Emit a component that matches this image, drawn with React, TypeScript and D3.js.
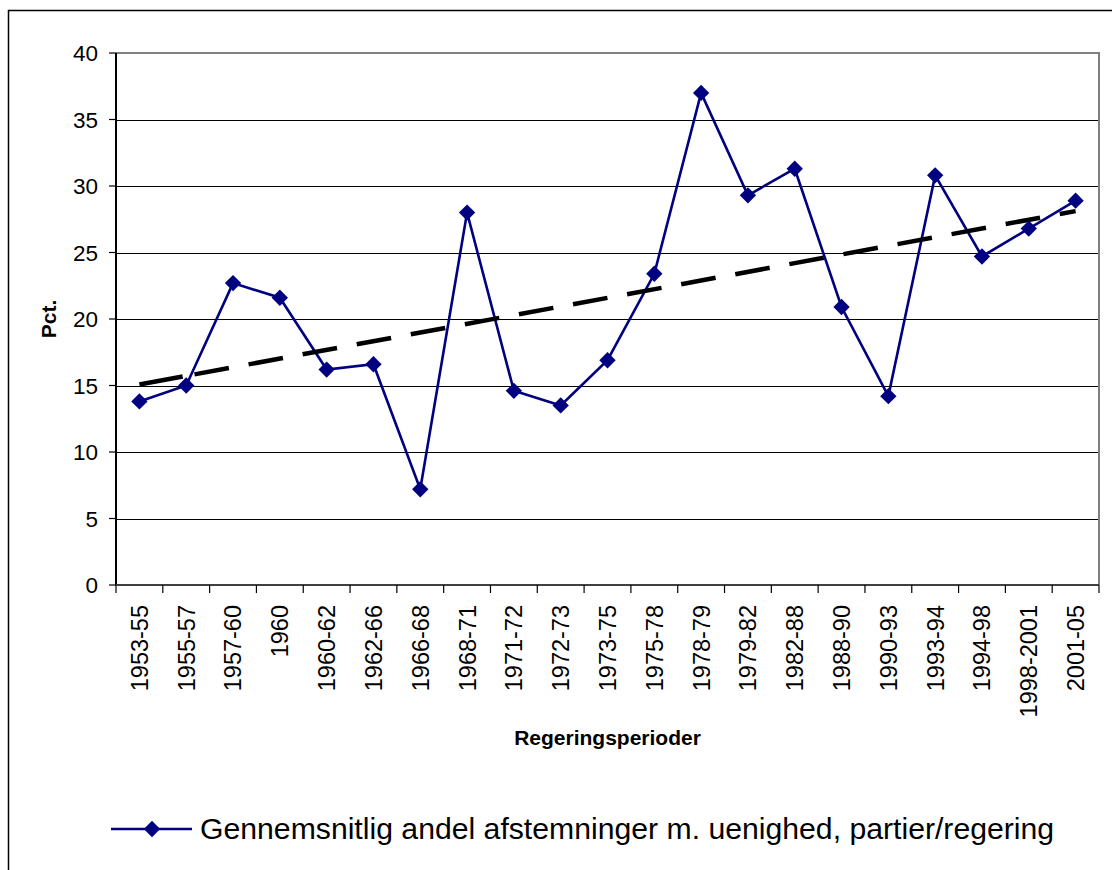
import React, { useEffect, useRef } from 'react';
import * as d3 from 'd3';

// periods and values
const periods = [
  '1953-55', '1955-57', '1957-60', '1960', '1960-62', '1962-66', '1966-68',
  '1968-71', '1971-72', '1972-73', '1973-75', '1975-78', '1978-79', '1979-82',
  '1982-88', '1988-90', '1990-93', '1993-94', '1994-98', '1998-2001', '2001-05',
];
const values = [
  13.8, 15.0, 22.7, 21.6, 16.2, 16.6, 7.2,
  28.0, 14.6, 13.5, 16.9, 23.4, 37.0, 29.3,
  31.3, 20.9, 14.2, 30.8, 24.7, 26.8, 28.9,
];
const yTicks = [0, 5, 10, 15, 20, 25, 30, 35, 40];
const seriesName = 'Gennemsnitlig andel afstemninger m. uenighed, partier/regering';
const xTitle = 'Regeringsperioder';
const yTitle = 'Pct.';

const FONT = '"Liberation Sans", Arial, sans-serif';

const App = () => {
  const ref = useRef<SVGSVGElement>(null);

  useEffect(() => {
    const svg = d3.select(ref.current);
    svg.selectAll('*').remove();

    const left = 116;
    const right = 1099;
    const top = 53;
    const bottom = 585;

    const x = d3.scaleBand().domain(periods).range([left, right]);
    const y = d3.scaleLinear().domain([0, 40]).range([bottom, top]);
    const cx = (p: string) => (x(p) as number) + x.bandwidth() / 2;

    // outer chart border (runs off the page on the right and bottom)
    svg
      .append('rect')
      .attr('x', 8.5)
      .attr('y', 10.5)
      .attr('width', 1300)
      .attr('height', 1000)
      .attr('fill', 'white')
      .attr('stroke', '#000')
      .attr('stroke-width', 1.5);

    // gridlines
    svg
      .append('g')
      .selectAll('line')
      .data(yTicks.filter((t) => t > 0 && t < 40))
      .enter()
      .append('line')
      .attr('x1', left)
      .attr('x2', right)
      .attr('y1', (d) => Math.round(y(d)) + 0.5)
      .attr('y2', (d) => Math.round(y(d)) + 0.5)
      .attr('stroke', '#000')
      .attr('stroke-width', 1);

    // plot area border top/right (gray)
    svg
      .append('path')
      .attr('d', `M${left},${top} H${right} V${bottom}`)
      .attr('fill', 'none')
      .attr('stroke', '#808080')
      .attr('stroke-width', 2);

    // y axis
    const yAxis = svg.append('g');
    yAxis
      .append('line')
      .attr('x1', left)
      .attr('x2', left)
      .attr('y1', top)
      .attr('y2', bottom)
      .attr('stroke', '#000')
      .attr('stroke-width', 2);
    yAxis
      .selectAll('line.tick')
      .data(yTicks)
      .enter()
      .append('line')
      .attr('class', 'tick')
      .attr('x1', left - 7)
      .attr('x2', left)
      .attr('y1', (d) => y(d))
      .attr('y2', (d) => y(d))
      .attr('stroke', '#000')
      .attr('stroke-width', 1.2);
    yAxis
      .selectAll('text')
      .data(yTicks)
      .enter()
      .append('text')
      .attr('x', 98)
      .attr('y', (d) => y(d))
      .attr('dy', '0.36em')
      .attr('text-anchor', 'end')
      .attr('font-family', FONT)
      .attr('font-size', 22.5)
      .text((d) => d);

    // x axis
    const xAxis = svg.append('g');
    xAxis
      .append('line')
      .attr('x1', left)
      .attr('x2', right)
      .attr('y1', bottom)
      .attr('y2', bottom)
      .attr('stroke', '#404040')
      .attr('stroke-width', 2);
    xAxis
      .selectAll('line.tick')
      .data(d3.range(periods.length + 1))
      .enter()
      .append('line')
      .attr('class', 'tick')
      .attr('x1', (i) => left + i * x.step())
      .attr('x2', (i) => left + i * x.step())
      .attr('y1', bottom)
      .attr('y2', bottom + 8)
      .attr('stroke', '#000')
      .attr('stroke-width', 1.2);
    xAxis
      .selectAll('text')
      .data(periods)
      .enter()
      .append('text')
      .attr('transform', (d) => `translate(${cx(d)},605) rotate(-90)`)
      .attr('dy', '0.36em')
      .attr('text-anchor', 'end')
      .attr('font-family', FONT)
      .attr('font-size', 23.5)
      .text((d) => d);

    // axis titles
    svg
      .append('text')
      .attr('x', (left + right) / 2)
      .attr('y', 745)
      .attr('text-anchor', 'middle')
      .attr('font-family', FONT)
      .attr('font-weight', 'bold')
      .attr('font-size', 21)
      .text(xTitle);
    svg
      .append('text')
      .attr('transform', `translate(56,${(top + bottom) / 2}) rotate(-90)`)
      .attr('text-anchor', 'middle')
      .attr('font-family', FONT)
      .attr('font-weight', 'bold')
      .attr('font-size', 21)
      .text(yTitle);

    // series line
    const line = d3
      .line<number>()
      .x((_, i) => cx(periods[i]))
      .y((d) => y(d));
    svg
      .append('path')
      .attr('d', line(values))
      .attr('fill', 'none')
      .attr('stroke', '#000080')
      .attr('stroke-width', 2.6);

    // linear trendline from least squares fit
    const xs = values.map((_, i) => i + 1);
    const mx = d3.mean(xs) as number;
    const my = d3.mean(values) as number;
    const slope =
      (d3.sum(xs, (xi, i) => (xi - mx) * (values[i] - my)) as number) /
      (d3.sum(xs, (xi) => (xi - mx) * (xi - mx)) as number);
    const trend = (xi: number) => my + slope * (xi - mx);
    svg
      .append('line')
      .attr('x1', cx(periods[0]))
      .attr('y1', y(trend(1)))
      .attr('x2', cx(periods[periods.length - 1]))
      .attr('y2', y(trend(periods.length)))
      .attr('stroke', '#000')
      .attr('stroke-width', 4.5)
      .attr('stroke-dasharray', '44,12,35,20,35,20,35,20,35,20,35,20,35,20,35,20,35,20,35,20,35,20,35,20,35,20,35,20,35,20,35,20,35,20,35,20');

    // markers
    const diamond = d3.symbol().type(d3.symbolDiamond2).size(170);
    svg
      .append('g')
      .selectAll('path')
      .data(values)
      .enter()
      .append('path')
      .attr('d', diamond)
      .attr('transform', (d, i) => `translate(${cx(periods[i])},${y(d)})`)
      .attr('fill', '#000080');

    // legend
    const lg = svg.append('g');
    lg.append('line')
      .attr('x1', 111)
      .attr('x2', 192)
      .attr('y1', 829)
      .attr('y2', 829)
      .attr('stroke', '#000080')
      .attr('stroke-width', 2.6);
    lg.append('path')
      .attr('d', diamond)
      .attr('transform', 'translate(152,829)')
      .attr('fill', '#000080');
    lg.append('text')
      .attr('x', 200)
      .attr('y', 839)
      .attr('font-family', FONT)
      .attr('font-size', 30.2)
      .text(seriesName);
  }, []);

  return (
    <svg
      ref={ref}
      width={1112}
      height={870}
      style={{ position: 'absolute', left: 0, top: 0, background: 'white' }}
    />
  );
};

export default App;
